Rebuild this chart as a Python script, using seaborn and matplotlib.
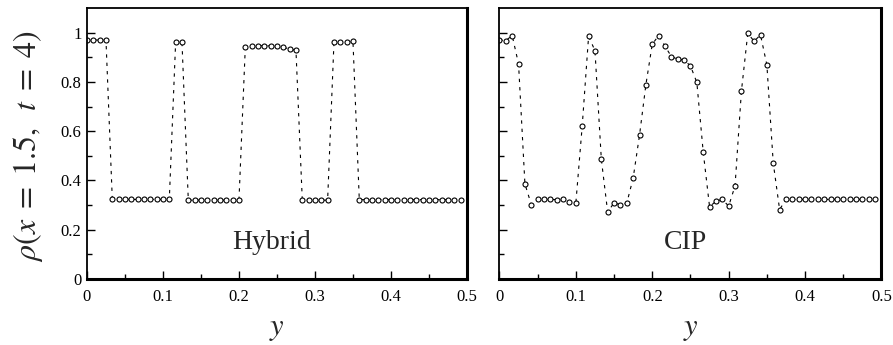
import numpy as np
import pandas as pd
import seaborn as sns
import matplotlib.pyplot as plt

# density rho at x = 1.5, t = 4 sampled along y (60 cells over 0..0.5)
y_pos = np.arange(60) / 120

rho_hybrid = [
    0.970, 0.970, 0.970, 0.970, 0.323, 0.323, 0.323, 0.323, 0.323, 0.323,
    0.323, 0.323, 0.323, 0.323, 0.961, 0.962, 0.320, 0.320, 0.320, 0.320,
    0.320, 0.320, 0.320, 0.320, 0.320, 0.940, 0.946, 0.947, 0.947, 0.946,
    0.944, 0.940, 0.934, 0.928, 0.320, 0.320, 0.320, 0.320, 0.320, 0.960,
    0.962, 0.963, 0.965, 0.322, 0.322, 0.322, 0.322, 0.322, 0.322, 0.322,
    0.322, 0.322, 0.322, 0.322, 0.322, 0.322, 0.322, 0.322, 0.322, 0.322,
]

rho_cip = [
    0.970, 0.968, 0.988, 0.873, 0.386, 0.302, 0.323, 0.323, 0.323, 0.322,
    0.325, 0.312, 0.309, 0.622, 0.985, 0.927, 0.486, 0.271, 0.310, 0.301,
    0.308, 0.410, 0.584, 0.789, 0.953, 0.988, 0.945, 0.903, 0.892, 0.889,
    0.865, 0.798, 0.516, 0.293, 0.316, 0.323, 0.296, 0.378, 0.762, 0.997,
    0.965, 0.991, 0.869, 0.471, 0.282, 0.323, 0.323, 0.323, 0.323, 0.323,
    0.323, 0.323, 0.323, 0.323, 0.323, 0.323, 0.323, 0.323, 0.323, 0.323,
]

panel_names = ['Hybrid', 'CIP']
x_ticks = [0, 0.1, 0.2, 0.3, 0.4, 0.5]
x_ticklabels = ['0', '0.1', '0.2', '0.3', '0.4', '0.5']
y_ticks = [0, 0.2, 0.4, 0.6, 0.8, 1.0]
y_ticklabels = ['0', '0.2', '0.4', '0.6', '0.8', '1']

df = pd.DataFrame({'y': np.concatenate([y_pos, y_pos]),
                   'rho': rho_hybrid + rho_cip,
                   'scheme': ['Hybrid'] * 60 + ['CIP'] * 60})

sns.set_style('ticks')
plt.rcParams['font.family'] = ['Liberation Serif', 'DejaVu Serif']
plt.rcParams['mathtext.fontset'] = 'stix'

fig = plt.figure(figsize=(8.93, 3.45), dpi=100)
ax1 = fig.add_axes([0.0974, 0.1913, 0.4255, 0.7855])
ax2 = fig.add_axes([0.5593, 0.1913, 0.4278, 0.7855])

for ax, name in zip([ax1, ax2], panel_names):
    sub = df[df.scheme == name]
    sns.lineplot(data=sub, x='y', y='rho', ax=ax, color='black',
                 linewidth=0.8, linestyle=(0, (3, 4.5)), marker='o',
                 markersize=3.6, markerfacecolor='white',
                 markeredgecolor='black', markeredgewidth=0.8,
                 clip_on=True)
    ax.set_xlim(0, 0.5)
    ax.set_ylim(0, 1.1)
    ax.set_xticks(x_ticks)
    ax.set_xticklabels(x_ticklabels)
    ax.set_yticks(y_ticks)
    ax.set_xticks(np.arange(0.05, 0.5, 0.1), minor=True)
    ax.set_yticks(np.arange(0.1, 1.1, 0.2), minor=True)
    ax.tick_params(which='both', direction='in', top=False, right=False,
                   labelsize=12, colors='black')
    ax.tick_params(which='major', length=6, width=1, pad=7)
    ax.tick_params(which='minor', length=3.5, width=1)
    ax.tick_params(axis='y', pad=4)
    for side, sp in ax.spines.items():
        sp.set_visible(True)
        sp.set_color('black')
        sp.set_linewidth(2.2 if side in ('right', 'bottom') else 1.3)
    ax.text(0.243, 0.15, name, fontsize=20, ha='center', va='center')
    ax.set_xlabel('$y$', fontsize=22)
    ax.xaxis.set_label_coords(0.5, -0.13)
    ax.set_ylabel('')

ax1.set_yticklabels(y_ticklabels)
ax2.set_yticklabels([])
ax1.set_ylabel(r'$\rho(x\;=\;1.5,\;\;t\;=\;4)$', fontsize=23)
ax1.yaxis.set_label_coords(-0.11, 0.49)

fig.savefig('out.png', dpi=100)
